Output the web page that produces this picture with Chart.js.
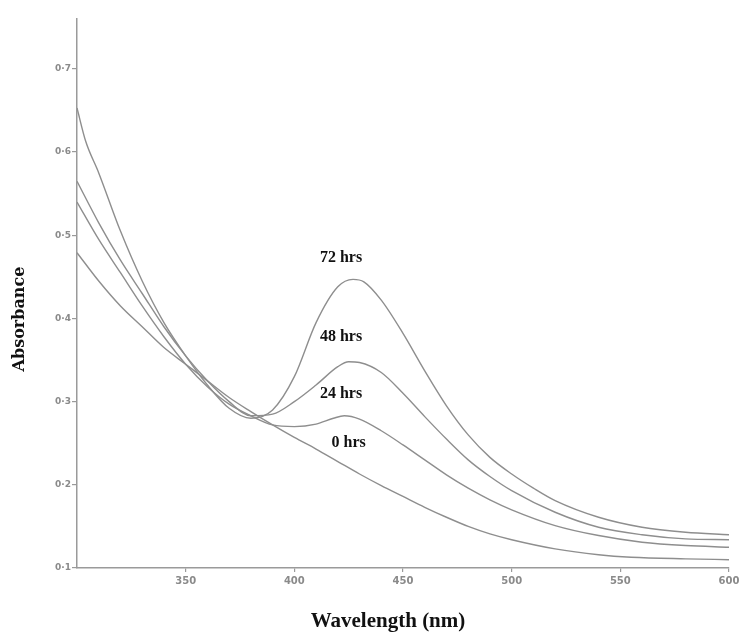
<!DOCTYPE html>
<html>
<head>
<meta charset="utf-8">
<script src="https://cdn.jsdelivr.net/npm/chart.js@4/dist/chart.umd.min.js"></script>
<style>
  html, body { margin: 0; padding: 0; background: #ffffff; }
  #wrap { width: 739px; height: 633px; }
</style>
</head>
<body>
<div id="wrap"><canvas id="c" width="739" height="633"></canvas></div>
<script>
// UV-Vis absorption spectra recorded at different reaction times
const seriesNames = ['0 hrs', '24 hrs', '48 hrs', '72 hrs'];

const wl0 = [300, 310, 320, 330, 340, 350, 360, 370, 380, 390, 400, 410, 420, 430, 440, 450, 460, 470, 480, 490, 500, 520, 540, 555, 580, 600];
const abs0 = [0.479, 0.445, 0.415, 0.39, 0.365, 0.345, 0.325, 0.305, 0.288, 0.272, 0.257, 0.243, 0.228, 0.213, 0.199, 0.186, 0.173, 0.161, 0.15, 0.141, 0.134, 0.123, 0.116, 0.113, 0.111, 0.11];

const wl24 = [300, 310, 320, 330, 340, 350, 360, 370, 380, 390, 400, 410, 418, 423, 430, 440, 450, 460, 470, 480, 490, 500, 520, 540, 560, 580, 600];
const abs24 = [0.54, 0.495, 0.455, 0.415, 0.378, 0.345, 0.318, 0.297, 0.283, 0.272, 0.27, 0.273, 0.28, 0.283, 0.279, 0.265, 0.248, 0.23, 0.212, 0.196, 0.182, 0.17, 0.151, 0.139, 0.131, 0.127, 0.125];

const wl48 = [300, 310, 320, 330, 340, 350, 360, 370, 380, 390, 400, 410, 420, 425, 430, 440, 450, 460, 470, 480, 490, 500, 520, 540, 560, 580, 600];
const abs48 = [0.565, 0.515, 0.47, 0.43, 0.39, 0.355, 0.325, 0.3, 0.283, 0.285, 0.3, 0.32, 0.342, 0.348, 0.347, 0.335, 0.31, 0.282, 0.255, 0.23, 0.21, 0.193, 0.167, 0.149, 0.14, 0.135, 0.134];

const wl72 = [300, 304, 310, 320, 330, 340, 350, 360, 370, 380, 390, 400, 410, 420, 427, 432, 440, 450, 460, 470, 480, 490, 500, 510, 520, 540, 560, 580, 600];
const abs72 = [0.653, 0.613, 0.575, 0.505, 0.445, 0.395, 0.355, 0.32, 0.292, 0.28, 0.29, 0.33, 0.395, 0.438, 0.447, 0.444, 0.422, 0.382, 0.337, 0.295, 0.26, 0.233, 0.213, 0.196, 0.181, 0.161, 0.149, 0.143, 0.14];

const xTicks = [350, 400, 450, 500, 550, 600];
const yTicks = [0.1, 0.2, 0.3, 0.4, 0.5, 0.6, 0.7];

// Text labels placed next to each curve, in data coordinates
const labelX = [425, 421.5, 421.5, 421.5];
const labelY = [0.250, 0.309, 0.378, 0.473];

const lineColor = '#8e8e8e';
const axisColor = '#9a9a9a';

function pts(xs, ys) { return xs.map((x, i) => ({ x: x, y: ys[i] })); }

const datasets = [
  pts(wl0, abs0), pts(wl24, abs24), pts(wl48, abs48), pts(wl72, abs72)
].map((d, i) => ({
  label: seriesNames[i],
  data: d,
  borderColor: lineColor,
  borderWidth: 1.4,
  pointRadius: 0,
  fill: false,
  cubicInterpolationMode: 'monotone'
}));

const curveLabels = {
  id: 'curveLabels',
  afterDatasetsDraw(chart) {
    const { ctx, scales: { x, y } } = chart;
    ctx.save();
    ctx.fillStyle = '#111';
    ctx.font = 'bold 16px "Liberation Serif"';
    ctx.textAlign = 'center';
    ctx.textBaseline = 'middle';
    seriesNames.forEach((name, i) => {
      ctx.fillText(name, x.getPixelForValue(labelX[i]), y.getPixelForValue(labelY[i]));
    });
    // axis titles
    ctx.font = 'bold 21px "Liberation Serif"';
    ctx.fillText('Wavelength (nm)', 388, 622);
    ctx.translate(20, 319);
    ctx.rotate(-Math.PI / 2);
    ctx.font = 'bold 16px "DejaVu Serif"';
    ctx.fillText('Absorbance', 0, 0);
    ctx.restore();
  }
};

new Chart(document.getElementById('c'), {
  type: 'line',
  data: { datasets },
  options: {
    responsive: false,
    animation: false,
    events: [],
    layout: { padding: { left: 0, right: 10, top: 19, bottom: 0 } },
    plugins: { legend: { display: false }, tooltip: { enabled: false } },
    scales: {
      x: {
        type: 'linear',
        min: 300,
        max: 600,
        afterFit(s) { s.height = 65; s.paddingLeft = 0; s.paddingRight = 0; },
        afterBuildTicks(s) { s.ticks = xTicks.map(v => ({ value: v })); },
        border: { color: axisColor, width: 1.5 },
        grid: { display: true, drawOnChartArea: false, tickLength: 4, color: axisColor, lineWidth: 1.2 },
        ticks: {
          color: '#8a8a8a',
          font: { family: 'DejaVu Sans', size: 10, weight: 'bold' },
          padding: 3,
          maxRotation: 0,
          callback: v => String(v)
        }
      },
      y: {
        type: 'linear',
        min: 0.1,
        max: 0.76,
        afterFit(s) { s.width = 77; s.paddingTop = 0; s.paddingBottom = 0; },
        afterBuildTicks(s) { s.ticks = yTicks.map(v => ({ value: v })); },
        border: { color: axisColor, width: 1.5 },
        grid: { display: true, drawOnChartArea: false, tickLength: 5, color: axisColor, lineWidth: 1.2 },
        ticks: {
          color: '#8a8a8a',
          font: { family: 'DejaVu Sans', size: 9, weight: 'bold' },
          padding: 1,
          callback: v => v.toFixed(1).replace('.', '·')
        }
      }
    }
  },
  plugins: [curveLabels]
});
</script>
</body>
</html>
